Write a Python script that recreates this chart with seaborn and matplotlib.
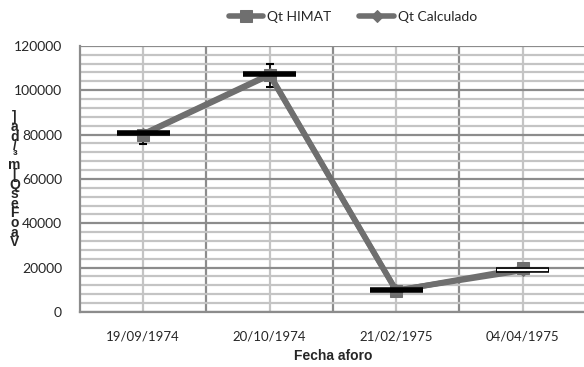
import matplotlib
matplotlib.use("Agg")
import matplotlib.pyplot as plt
import pandas as pd
import seaborn as sns
from matplotlib.ticker import MultipleLocator, FixedLocator

# Data
fechas = ["19/09/1974", "20/10/1974", "21/02/1975", "04/04/1975"]
qt_himat = [80000, 106800, 9600, 19600]
qt_calculado = [80300, 107200, 9800, 18700]
err_low = [75800, 101500, 9000, 18000]
err_high = [81000, 111900, 10400, 20300]
barra = [80700, 107400, 9900, 18950]

sns.set_style("white")
plt.rcParams["font.family"] = ["Lato", "DejaVu Sans"]

df = pd.DataFrame({"Fecha": fechas, "Qt HIMAT": qt_himat, "Qt Calculado": qt_calculado})
df["x"] = range(len(df))

fig = plt.figure(figsize=(5.84, 3.67), dpi=100)
ax = fig.add_axes([0.137, 0.150, 0.866, 0.725])

gray = "#6f6f6f"
# error bars
lo = [v - l for v, l in zip(qt_himat, err_low)]
hi = [h - v for v, h in zip(qt_himat, err_high)]
ax.errorbar(df["x"], df["Qt HIMAT"], yerr=[lo, hi], fmt="none", ecolor="black",
            elinewidth=1.2, capsize=3, capthick=1.5, zorder=3)

sns.lineplot(data=df, x="x", y="Qt HIMAT", ax=ax, color=gray, lw=4, marker="s",
             markersize=9, markeredgecolor=gray, label="Qt HIMAT", zorder=4)
sns.lineplot(data=df, x="x", y="Qt Calculado", ax=ax, color=gray, lw=4, marker="D",
             markersize=6, markeredgecolor=gray, label="Qt Calculado", zorder=4)

# black horizontal level bars (last one hollow)
for i, b in enumerate(barra):
    ax.hlines(b, i - 0.21, i + 0.21, color="black", lw=4, zorder=5)
    if i == len(barra) - 1:
        ax.hlines(b, i - 0.2, i + 0.2, color="white", lw=1.6, zorder=6)

ax.set_xlim(-0.5, 3.5)
ax.set_ylim(0, 120000)
ax.yaxis.set_major_locator(MultipleLocator(20000))
ax.yaxis.set_minor_locator(MultipleLocator(4000))
ax.xaxis.set_major_locator(FixedLocator([0.5, 1.5, 2.5]))
ax.xaxis.set_minor_locator(FixedLocator(list(df["x"])))
ax.set_xticklabels([], minor=False)
ax.set_xticks(list(df["x"]), labels=fechas, minor=True)

ax.grid(which="major", axis="both", color="#8c8c8c", lw=1.6)
ax.grid(which="minor", axis="both", color="#c4c4c4", lw=1.6)
ax.set_axisbelow(True)
ax.tick_params(axis="y", which="major", length=5, width=1.5, color="#8c8c8c",
               labelsize=10, pad=8)
ax.tick_params(axis="y", which="minor", length=0)
ax.tick_params(axis="x", which="major", length=5, width=1.5, color="#8c8c8c")
ax.tick_params(axis="x", which="minor", length=5, width=1.5, color="#b0b0b0",
               labelsize=9.5, pad=8)
for s in ["top", "right"]:
    ax.spines[s].set_visible(False)
for s in ["left", "bottom"]:
    ax.spines[s].set_color("#8c8c8c")
    ax.spines[s].set_linewidth(1.6)

ax.set_xlabel("Fecha aforo", family="Liberation Sans", fontweight="bold",
              fontsize=10, labelpad=5)
ax.set_ylabel("")
ylab = "\n".join(list("]ad/³m[QseFoaV"))
fig.text(0.025, 0.51, ylab, ha="center", va="center", fontsize=10,
         fontweight="bold", linespacing=0.6, family="Liberation Sans")

ax.legend(loc="lower center", bbox_to_anchor=(0.54, 1.04), ncol=2, frameon=False,
          fontsize=10, handlelength=2.5, columnspacing=2.0, handletextpad=0.3)

fig.savefig("out.png", dpi=100)
